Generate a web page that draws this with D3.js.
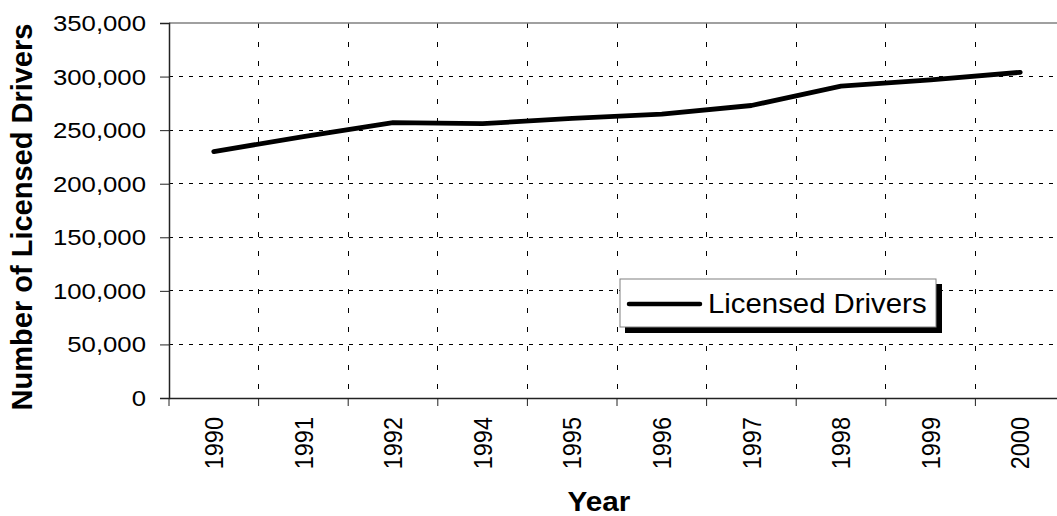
<!DOCTYPE html>
<html>
<head>
<meta charset="utf-8">
<script src="https://cdn.jsdelivr.net/npm/d3@7"></script>
<style>
  html, body { margin: 0; padding: 0; background: #fff; }
  svg { display: block; font-family: Arial, "Liberation Sans", Helvetica, sans-serif; }
</style>
</head>
<body>
<svg id="chart" width="1057" height="516"></svg>
<script>
// Licensed drivers by year
const years = ["1990", "1991", "1992", "1994", "1995", "1996", "1997", "1998", "1999", "2000"];
const drivers = [230000, 244000, 257000, 256000, 261000, 265000, 273000, 291000, 297000, 304000];
const yTicks = [0, 50000, 100000, 150000, 200000, 250000, 300000, 350000];
const seriesName = "Licensed Drivers";
const xTitle = "Year";
const yTitle = "Number of Licensed Drivers";

const svg = d3.select("#chart");
const plot = { left: 169, top: 23, right: 1065, bottom: 398 };
const stretch = 1.12; // horizontal widening of lettering

const x = d3.scaleBand().domain(years).range([plot.left, plot.right]).padding(0);
const y = d3.scaleLinear().domain([0, 350000]).range([plot.bottom, plot.top]);
const fmt = d3.format(",");

// horizontal dashed gridlines
svg.append("g").selectAll("line")
  .data(yTicks.filter(t => t > 0 && t < 350000))
  .join("line")
  .attr("x1", plot.left).attr("x2", plot.right)
  .attr("y1", d => y(d)).attr("y2", d => y(d))
  .attr("stroke", "#000").attr("stroke-width", 1)
  .attr("stroke-dasharray", "4,6")
  .attr("shape-rendering", "crispEdges");

// vertical dashed gridlines at category boundaries
svg.append("g").selectAll("line")
  .data(years.slice(1))
  .join("line")
  .attr("x1", d => x(d)).attr("x2", d => x(d))
  .attr("y1", plot.top).attr("y2", plot.bottom)
  .attr("stroke", "#000").attr("stroke-width", 1)
  .attr("stroke-dasharray", "5,14")
  .attr("shape-rendering", "crispEdges");

// plot frame top
svg.append("line")
  .attr("x1", plot.left).attr("x2", plot.right)
  .attr("y1", plot.top).attr("y2", plot.top)
  .attr("stroke", "#808080").attr("stroke-width", 1.5);

// y axis
const yAxis = svg.append("g")
  .attr("transform", `translate(${plot.left},0)`)
  .call(d3.axisLeft(y).tickValues(yTicks).tickSize(9).tickFormat(""));
yAxis.select(".domain").attr("stroke", "#222").attr("stroke-width", 1.5);
yAxis.selectAll(".tick line").attr("stroke", "#222").attr("stroke-width", 1);

svg.append("g").selectAll("text")
  .data(yTicks)
  .join("text")
  .attr("transform", d => `translate(${plot.left - 23},${y(d)}) scale(${stretch},1)`)
  .attr("text-anchor", "end")
  .attr("dy", "0.35em")
  .attr("font-size", 23)
  .attr("fill", "#000")
  .text(d => fmt(d));

// x axis with ticks at category boundaries
const xAxis = svg.append("g")
  .attr("transform", `translate(0,${plot.bottom})`)
  .call(d3.axisBottom(x).tickSize(0).tickFormat(""));
xAxis.select(".domain").attr("stroke", "#222").attr("stroke-width", 1.5);
xAxis.selectAll(".tick").remove();
xAxis.selectAll("line.bnd")
  .data(years)
  .join("line")
  .attr("class", "bnd")
  .attr("x1", d => x(d)).attr("x2", d => x(d))
  .attr("y1", 0).attr("y2", 8)
  .attr("stroke", "#222").attr("stroke-width", 1);

svg.append("g").selectAll("text")
  .data(years)
  .join("text")
  .attr("transform", d => `translate(${x(d) + x.bandwidth() / 2},${plot.bottom + 19}) scale(${stretch},1) rotate(-90)`)
  .attr("text-anchor", "end")
  .attr("dy", "0.35em")
  .attr("font-size", 23.5)
  .attr("fill", "#000")
  .text(d => d);

// data line
const line = d3.line()
  .x((d, i) => x(years[i]) + x.bandwidth() / 2)
  .y(d => y(d));
svg.append("path")
  .datum(drivers)
  .attr("d", line)
  .attr("fill", "none")
  .attr("stroke", "#000")
  .attr("stroke-width", 4.8)
  .attr("stroke-linejoin", "round")
  .attr("stroke-linecap", "round");

// axis titles
svg.append("text")
  .attr("transform", `translate(599,511) scale(1.1,1)`)
  .attr("text-anchor", "middle")
  .attr("font-size", 27)
  .attr("font-weight", "bold")
  .text(xTitle);

svg.append("text")
  .attr("transform", `translate(32,217) rotate(-90)`)
  .attr("text-anchor", "middle")
  .attr("font-size", 29)
  .attr("font-weight", "bold")
  .text(yTitle);

// legend with drop shadow
const lg = svg.append("g");
lg.append("rect")
  .attr("x", 625).attr("y", 284).attr("width", 317).attr("height", 49)
  .attr("fill", "#000");
lg.append("rect")
  .attr("x", 620).attr("y", 279).attr("width", 316).attr("height", 48)
  .attr("fill", "#fff").attr("stroke", "#808080").attr("stroke-width", 1);
lg.append("line")
  .attr("x1", 629).attr("x2", 700).attr("y1", 304).attr("y2", 304)
  .attr("stroke", "#000").attr("stroke-width", 4.5).attr("stroke-linecap", "round");
lg.append("text")
  .attr("transform", `translate(708,313) scale(1.03,1)`)
  .attr("font-size", 28.5)
  .attr("fill", "#000")
  .text(seriesName);
</script>
</body>
</html>
